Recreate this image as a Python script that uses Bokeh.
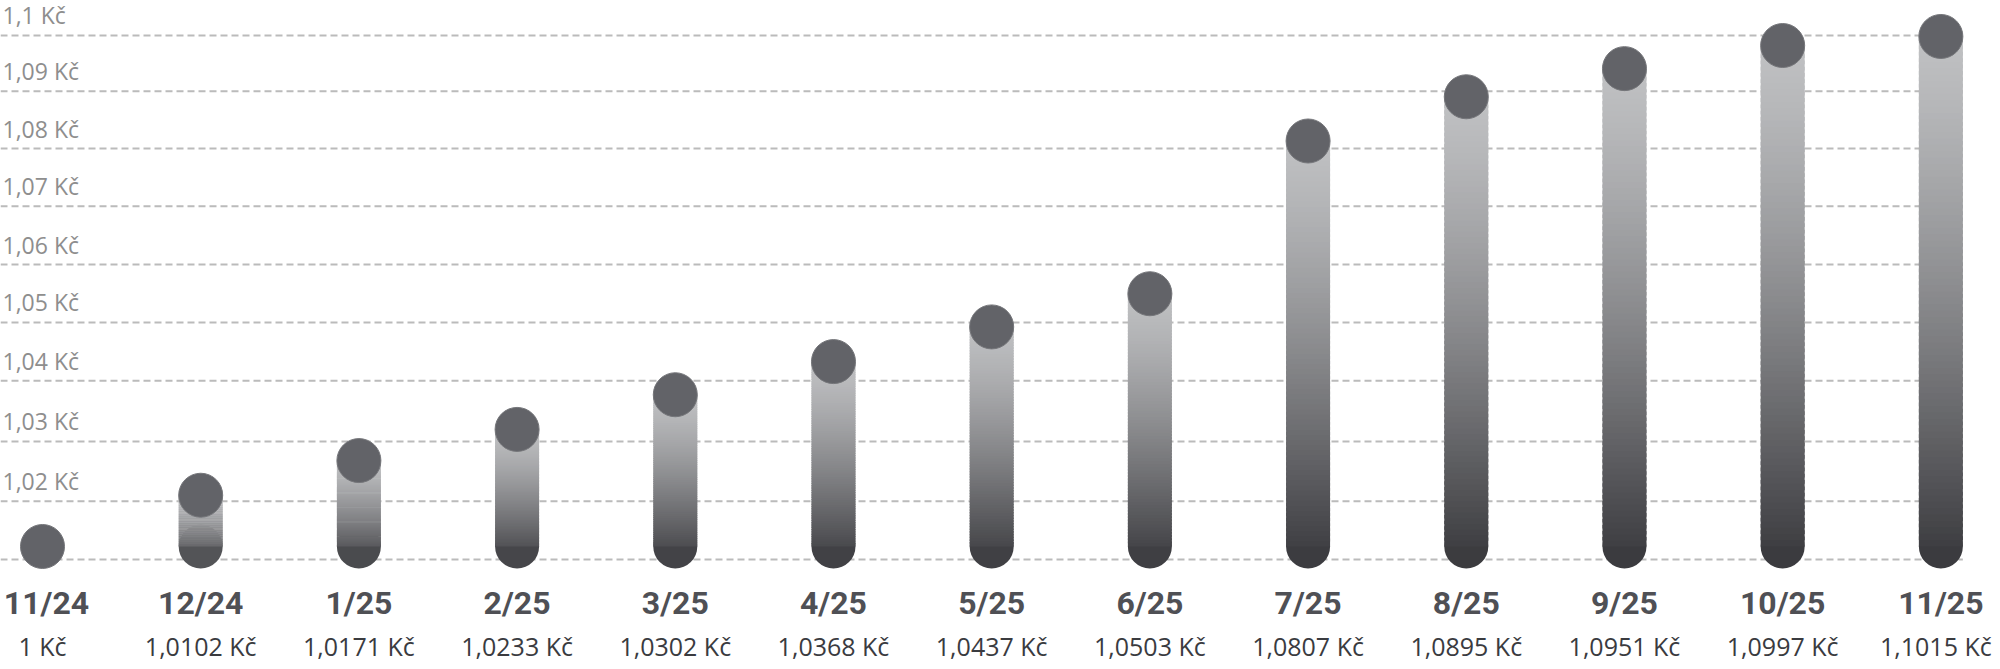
import numpy as np
from bokeh.plotting import figure
from bokeh.models import Range1d
from bokeh.core.properties import value
from bokeh.embed import file_html
from bokeh.resources import INLINE

# ---------------- data ----------------
months = ["11/24", "12/24", "1/25", "2/25", "3/25", "4/25", "5/25",
          "6/25", "7/25", "8/25", "9/25", "10/25", "11/25"]
prices = [1.0, 1.0102, 1.0171, 1.0233, 1.0302, 1.0368, 1.0437,
          1.0503, 1.0807, 1.0895, 1.0951, 1.0997, 1.1015]
price_labels = ["1 Kč", "1,0102 Kč", "1,0171 Kč", "1,0233 Kč", "1,0302 Kč",
                "1,0368 Kč", "1,0437 Kč", "1,0503 Kč", "1,0807 Kč",
                "1,0895 Kč", "1,0951 Kč", "1,0997 Kč", "1,1015 Kč"]
base_value = 1.0
# dashed guide lines (positions) and their labels
grid_values = [0.9974, 1.0090, 1.0209, 1.0330, 1.0446, 1.0561,
               1.0677, 1.0792, 1.0906, 1.1017]
grid_labels = ["", "1,02 Kč", "1,03 Kč", "1,04 Kč", "1,05 Kč", "1,06 Kč",
               "1,07 Kč", "1,08 Kč", "1,09 Kč", "1,1 Kč"]

# ---------------- layout / style ----------------
W, H = 2000, 669
x_start, x_end = -0.2655, 12.377
y_start, y_end = 0.97552, 1.10866
BAR_PX = 44
FONT_B = value("Roboto")
FONT_R = value("Open Sans")
LIGHT = np.array([191, 192, 194])
DARK = np.array([55, 55, 59])

p = figure(width=W, height=H, output_backend="svg", toolbar_location=None,
           x_range=Range1d(x_start, x_end), y_range=Range1d(y_start, y_end),
           min_border=0, min_border_left=0, min_border_right=0,
           min_border_top=0, min_border_bottom=0)
p.axis.visible = False
p.grid.visible = False
p.outline_line_color = None
p.background_fill_color = "white"
p.border_fill_color = "white"

px_per_x = W / (x_end - x_start)
px_per_y = H / (y_end - y_start)
half_w = (BAR_PX / 2) / px_per_x
cap_r = (BAR_PX / 2) / px_per_y

idx = list(range(len(months)))

# gridlines
p.segment(x0=[x_start] * len(grid_values), x1=[idx[-1] + half_w] * len(grid_values),
          y0=grid_values, y1=grid_values, line_color="#bbbbbb", line_width=2,
          line_dash="7 4")

# y labels above gridlines
p.text(x=[x_start] * (len(grid_values) - 1), y=grid_values[1:], text=grid_labels[1:],
       text_font=FONT_R, text_font_size="23px", text_color="#8e8e8e",
       text_align="left", text_baseline="alphabetic", x_offset=2, y_offset=-20)


def shade(t):
    t = min(max(t, 0.0), 1.0) ** 1.3
    c = LIGHT + (DARK - LIGHT) * t
    return "#%02x%02x%02x" % tuple(int(round(v)) for v in c)


# gradient bars
seg_x, seg_y0, seg_y1, seg_c = [], [], [], []
cap_x, cap_c = [], []
for i, v in zip(idx, prices):
    if v <= base_value:
        continue
    bottom = base_value - cap_r
    span = v - bottom
    cap_x.append(i)
    cap_c.append(shade((v - (base_value - cap_r * 0.45)) / span))
    n = 80
    edges = np.linspace(base_value, v, n + 1)
    step = edges[1] - edges[0]
    for k in range(n):
        mid = (edges[k] + edges[k + 1]) / 2
        seg_x.append(i)
        seg_y0.append(edges[k])
        seg_y1.append(edges[k + 1] + step * 0.6)
        seg_c.append(shade((v - mid) / span))

p.scatter(x=cap_x, y=[base_value] * len(cap_x), size=BAR_PX, fill_color=cap_c,
          line_color=None)
p.segment(x0=seg_x, x1=seg_x, y0=seg_y0, y1=seg_y1, line_color=seg_c,
          line_width=BAR_PX, line_cap="butt")

# top circles
p.scatter(x=idx, y=prices, size=BAR_PX, fill_color="#626368",
          line_color="#75767a", line_width=1)

# month labels and price labels
month_shift = [4] + [0] * (len(months) - 1)
price_shift = [0] * (len(months) - 1) + [-5]
p.text(x=idx, y=[base_value] * len(idx), text=months, text_font=FONT_B,
       text_font_style="bold", text_font_size="32px", text_color="#4f5055",
       text_align="center", text_baseline="alphabetic", y_offset=57,
       x_offset=month_shift)
p.text(x=idx, y=[base_value] * len(idx), text=price_labels, text_font=FONT_R,
       text_font_size="25px", text_color="#3a3b3f",
       text_align="center", text_baseline="alphabetic", y_offset=100,
       x_offset=price_shift)

open("out.html", "w").write(file_html(p, INLINE))
